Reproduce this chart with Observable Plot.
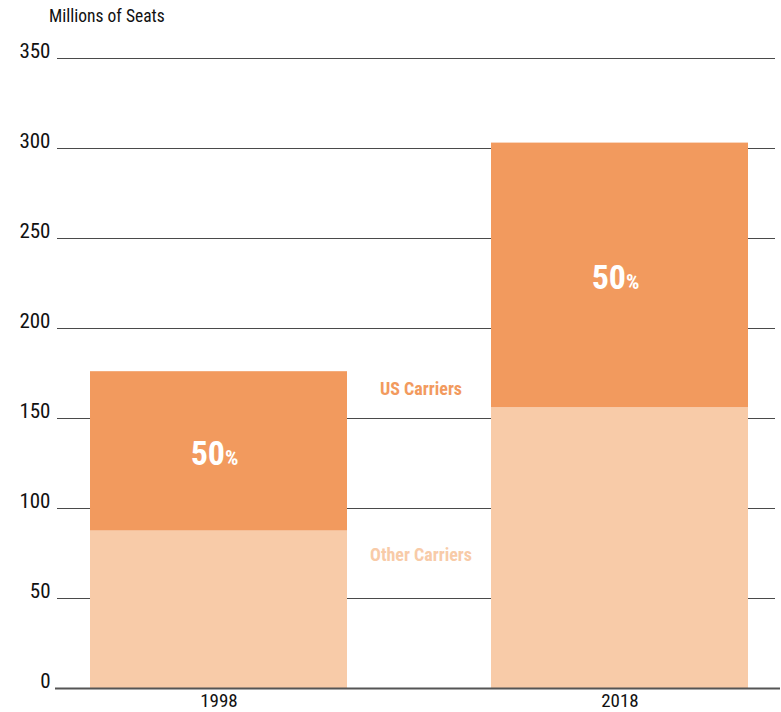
<!DOCTYPE html>
<html>
<head>
<meta charset="utf-8">
<script src="https://cdn.jsdelivr.net/npm/d3@7"></script>
<script src="https://cdn.jsdelivr.net/npm/@observablehq/plot@0.6"></script>
<style>
  body { margin: 0; background: #fff; }
  #chart { position: relative; width: 781px; height: 712px; font-family: "Liberation Sans Narrow", "Roboto Condensed", "Arial Narrow", sans-serif; font-stretch: condensed; }
  #title { height: 28px; padding-left: 49px; font-size: 17.5px; line-height: 32px; color: #111; }
  svg { display: block; }
</style>
</head>
<body>
<div id="chart"><div id="title">Millions of Seats</div></div>
<script>
const years = ["1998", "2018"];
const otherCarriers = [87.5, 156];
const usCarriers = [88.5, 147];
const usShare = ["50", "50"];
const yTicks = [0, 50, 100, 150, 200, 250, 300, 350];
const seriesNames = ["Other Carriers", "US Carriers"];
const colors = ["#F8CBA8", "#F29A5E"];

const table = [];
years.forEach((y, i) => {
  table.push({year: y, carrier: seriesNames[0], value: otherCarriers[i]});
  table.push({year: y, carrier: seriesNames[1], value: usCarriers[i]});
});
const labelRows = years.map((y, i) => ({year: y, mid: otherCarriers[i] + usCarriers[i] / 2, text: usShare[i]}));
const legendRows = [
  {year: "1998", value: 166, name: seriesNames[1]},
  {year: "1998", value: 74, name: seriesNames[0]}
];

const font = '"Liberation Sans Narrow", "Roboto Condensed", "Arial Narrow", sans-serif';

const chart = Plot.plot({
  width: 781,
  height: 684,
  marginTop: 30,
  marginBottom: 24,
  marginLeft: 57,
  marginRight: 6,
  style: {fontFamily: font, fontSize: "20px", color: "#111", background: "#fff"},
  x: {domain: years, paddingInner: 0.36, paddingOuter: 0.075, align: 0.55, label: null},
  y: {domain: [0, 350], label: null},
  color: {domain: seriesNames, range: colors},
  marks: [
    Plot.ruleY(yTicks.filter(d => d > 0), {stroke: "#4a4a4a", strokeWidth: 1}),
    Plot.barY(table, {x: "year", y: "value", fill: "carrier"}),
    Plot.ruleY([0], {stroke: "#555", strokeWidth: 2, insetLeft: -2, insetRight: -5}),
    Plot.axisY({ticks: yTicks, tickSize: 0, tickPadding: 7, dy: -7, fontSize: 21, fill: "#111"}),
    Plot.axisX({tickSize: 0, tickPadding: 5, fontSize: 19, fill: "#111"}),
    Plot.text(labelRows, {x: "year", y: "mid", text: "text", textAnchor: "end", dx: 6, dy: 3, fill: "white", fontWeight: "bold", fontSize: 34}),
    Plot.text(labelRows, {x: "year", y: "mid", text: () => "%", textAnchor: "start", dx: 6, dy: 7, fill: "white", fontWeight: "bold", fontSize: 21}),
    Plot.text(legendRows, {x: "year", y: "value", text: "name", fill: "name", dx: 202, fontWeight: "bold", fontSize: 18})
  ]
});
document.getElementById("chart").appendChild(chart);
</script>
</body>
</html>
